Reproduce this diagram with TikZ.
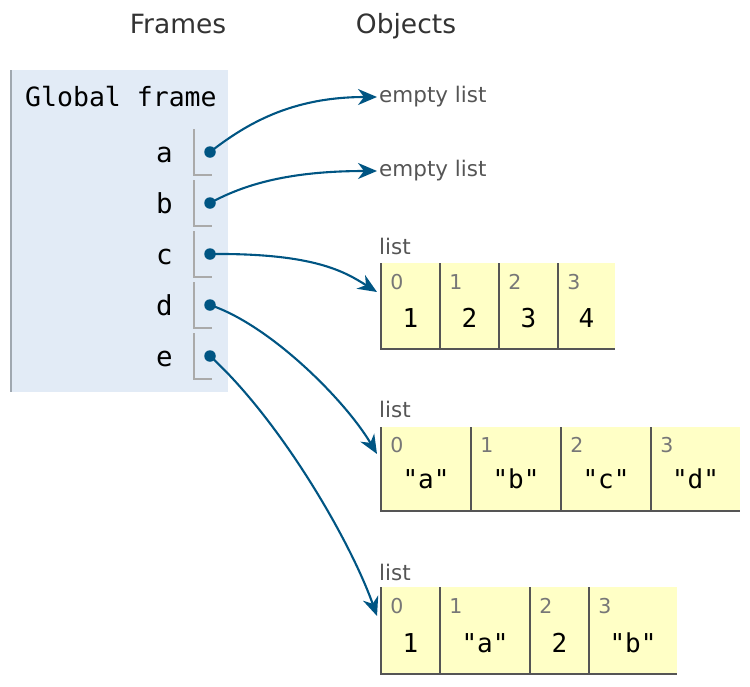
\documentclass[tikz,border=0pt]{standalone}
\usepackage{fontspec}
\setmainfont{DejaVu Sans}
\setmonofont{DejaVu Sans Mono}
\usetikzlibrary{arrows.meta}
\definecolor{ptarrow}{HTML}{005583}
\definecolor{ptframe}{HTML}{E2EBF6}
\definecolor{ptframeborder}{HTML}{A0A8B0}
\definecolor{ptlist}{HTML}{FFFFC6}
\definecolor{ptcellborder}{HTML}{555555}
\definecolor{ptvarborder}{HTML}{AAAAAA}
\definecolor{pthead}{HTML}{333333}
\definecolor{ptlabel}{HTML}{555555}
\definecolor{ptindex}{HTML}{777777}
\tikzset{
  header/.style={font=\fontsize{26.5}{30}\selectfont, text=pthead, inner sep=0pt, anchor=base},
  varname/.style={font=\ttfamily\fontsize{27.5}{30}\selectfont, anchor=base east, inner sep=0pt},
  objlabel/.style={font=\fontsize{21.5}{25}\selectfont, text=ptlabel, anchor=west, inner sep=0pt},
  idx/.style={font=\fontsize{20.5}{22}\selectfont, text=ptindex, inner sep=0pt, anchor=base},
  val/.style={font=\ttfamily\fontsize{26}{30}\selectfont, inner sep=0pt, anchor=base},
  ptr/.style={draw=ptarrow, line width=2.1pt, -{Stealth[length=19pt, width=16pt, inset=6pt]}},
  dotmark/.style={circle, fill=ptarrow, inner sep=0pt, minimum size=11.5pt},
  cellbd/.style={draw=ptcellborder, line width=2pt},
  varbd/.style={draw=ptvarborder, line width=2pt},
}
\begin{document}
\begin{tikzpicture}[x=1pt, y=-1pt]
\useasboundingbox (0,0) rectangle (750,686);

% headers
\node[header] (hframes) at (178,33) {Frames};
\node[header] (hobjects) at (406,33) {Objects};

% global frame
\fill[ptframe] (11,70) rectangle (228,392);
\draw[ptframeborder, line width=2pt] (11,70) -- (11,392);
\node[font=\ttfamily\fontsize{26.5}{30}\selectfont, anchor=base west, inner sep=0pt] (gf) at (25,106.5) {Global frame};

% variables
\foreach \n/\y in {a/152, b/203, c/254, d/305, e/356} {
  \node[varname] (v\n) at (173,\y+10.5) {\n};
  \draw[varbd] (194,\y-23) -- (194,\y+23) -- (212,\y+23);
  \node[dotmark] (p\n) at (210,\y) {};
}

% empty lists
\node[objlabel] (ea) at (379,97) {empty list};
\node[objlabel] (eb) at (379,171) {empty list};

% list labels
\node[objlabel] (l1) at (379,246) {list};
\node[objlabel] (l2) at (379,409) {list};
\node[objlabel] (l3) at (379,572) {list};

% list 1
\foreach \i/\xa/\xb/\v in {0/381/440/1, 1/440/499/2, 2/499/558/3, 3/558/615/4} {
  \fill[ptlist] (\xa,263) rectangle (\xb,348);
  \node[idx] (a\i) at (\xa+16,289) {\i};
  \node[val] (av\i) at ({(\xa+\xb)/2},327) {\v};
}
\draw[cellbd] (381,263) -- (381,349) -- (615,349);
\foreach \x in {440,499,558} \draw[cellbd] (\x,263) -- (\x,349);

% list 2
\foreach \i/\xa/\xb/\v in {0/381/471/a, 1/471/561/b, 2/561/651/c, 3/651/740/d} {
  \fill[ptlist] (\xa,427) rectangle (\xb,510);
  \node[idx] (b\i) at (\xa+16,452) {\i};
  \node[val] (bv\i) at ({(\xa+\xb)/2},488) {"\v"};
}
\draw[cellbd] (381,427) -- (381,511) -- (740,511);
\foreach \x in {471,561,651} \draw[cellbd] (\x,427) -- (\x,511);

% list 3
\foreach \i/\xa/\xb/\v in {0/381/440/1, 1/440/530/"a", 2/530/589/2, 3/589/677/"b"} {
  \fill[ptlist] (\xa,587) rectangle (\xb,673);
  \node[idx] (c\i) at (\xa+16,613) {\i};
  \node[val] (cv\i) at ({(\xa+\xb)/2},652) {\v};
}
\draw[cellbd] (381,587) -- (381,674) -- (677,674);
\foreach \x in {440,530,589} \draw[cellbd] (\x,587) -- (\x,674);

% targets
\coordinate (ta) at (377,97);
\coordinate (tb) at (377,171);
\coordinate (tc) at (377,292);
\coordinate (td) at (377,454);
\coordinate (te) at (377,616);

% pointers
\draw[ptr] (pa.center) .. controls (245,125) and (290,97) .. (ta);
\draw[ptr] (pb.center) .. controls (245,184) and (290,171) .. (tb);
\draw[ptr] (pc.center) .. controls (315,253) and (345,272) .. (tc);
\draw[ptr] (pd.center) .. controls (270,325) and (345,400) .. (td);
\draw[ptr] (pe.center) .. controls (280,420) and (350,540) .. (te);
\end{tikzpicture}
\end{document}
